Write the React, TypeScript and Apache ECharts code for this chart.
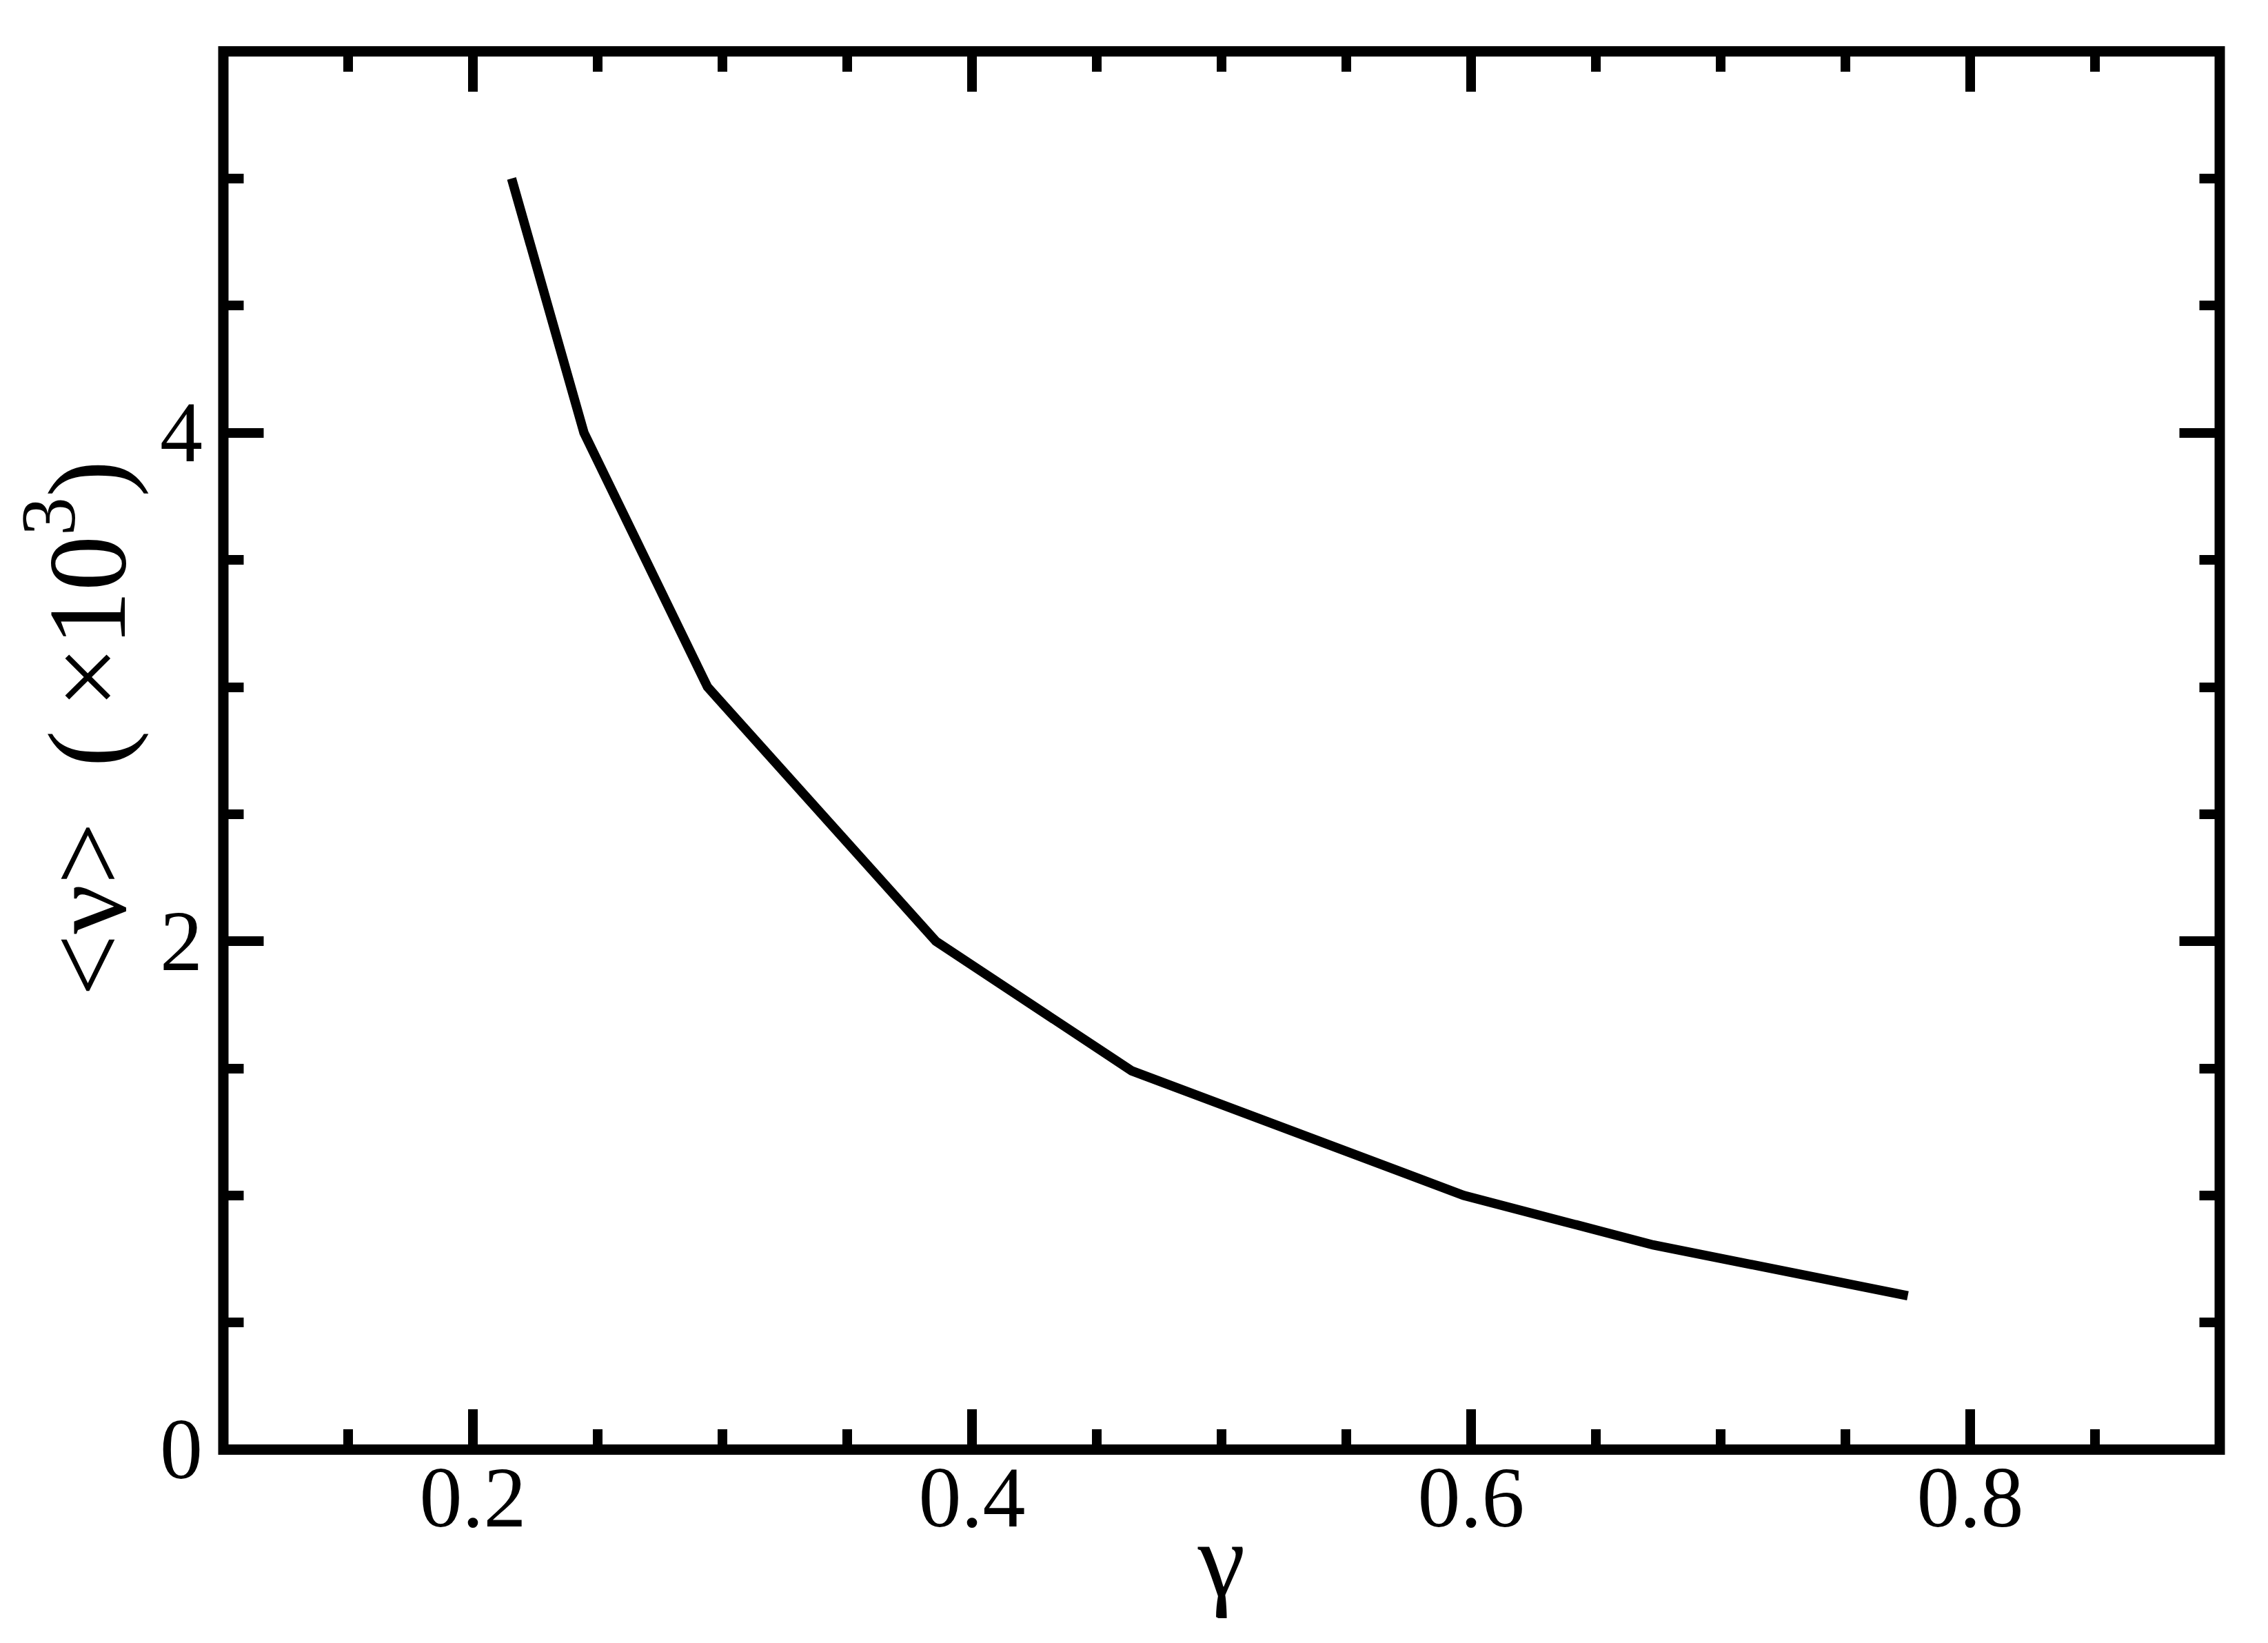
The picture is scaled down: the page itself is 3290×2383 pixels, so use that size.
import React, { useEffect, useRef } from "react";
import * as echarts from "echarts";

// Data
const gammaValues = [0.2155, 0.2445, 0.294, 0.3855, 0.464, 0.597, 0.673, 0.775];
const nuValues = [5.0, 4.0, 3.0, 2.0, 1.49, 1.0, 0.805, 0.605];

// Tick / label values
const xMajorTicks = [0.2, 0.4, 0.6, 0.8];
const yMajorTicks = [0, 2, 4];

const FONT = "'Liberation Serif', 'Times New Roman', serif";
const BLACK = "#000";

export default function App() {
  const ref = useRef<HTMLDivElement>(null);

  useEffect(() => {
    if (!ref.current) return;
    const chart = echarts.init(ref.current, undefined, { renderer: "svg" });

    const tickStyle = { width: 14, color: BLACK };
    const shortTick = { show: true, inside: true, length: 29.5, lineStyle: tickStyle };
    const longTick = (vals: number[]) => ({
      show: true,
      inside: true,
      length: 58.5,
      customValues: vals,
      lineStyle: tickStyle,
    });

    const xBase = {
      type: "value" as const,
      gridIndex: 0,
      min: 0.1,
      max: 0.9,
      axisLine: { show: false, onZero: false },
      splitLine: { show: false },
    };
    const yBase = {
      type: "value" as const,
      gridIndex: 0,
      min: 0,
      max: 5.5,
      axisLine: { show: false, onZero: false },
      splitLine: { show: false },
    };

    const data = gammaValues.map((g, i) => [g, nuValues[i]]);

    chart.setOption({
      animation: false,
      backgroundColor: "#fff",
      grid: {
        left: 324,
        top: 74.5,
        width: 2896,
        height: 2028,
        show: true,
        borderWidth: 15,
        borderColor: BLACK,
        backgroundColor: "transparent",
        containLabel: false,
        outerBoundsMode: "none",
      },
      xAxis: [
        {
          ...xBase,
          position: "bottom",
          interval: 0.05,
          axisTick: shortTick,
          axisLabel: {
            customValues: xMajorTicks,
            fontSize: 124,
            fontFamily: FONT,
            color: BLACK,
            margin: 7.5,
          },
          name: "γ",
          nameLocation: "middle",
          nameGap: 81.5,
          nameMoveOverlap: false,
          nameTextStyle: { fontSize: 155, fontFamily: FONT, color: BLACK },
        },
        {
          ...xBase,
          position: "bottom",
          axisTick: longTick(xMajorTicks),
          axisLabel: { show: false },
        },
        {
          ...xBase,
          position: "top",
          interval: 0.05,
          axisTick: shortTick,
          axisLabel: { show: false },
        },
        {
          ...xBase,
          position: "top",
          axisTick: longTick(xMajorTicks),
          axisLabel: { show: false },
        },
      ],
      yAxis: [
        {
          ...yBase,
          position: "left",
          interval: 0.5,
          axisTick: shortTick,
          axisLabel: { show: false },
          name: "{n|<ν>  (\u2009×10}{s|3}{n|)}",
          nameLocation: "middle",
          nameGap: 84,
          nameRotate: 90,
          nameMoveOverlap: false,
          nameTextStyle: {
            fontFamily: FONT,
            color: BLACK,
            fontSize: 160,
            padding: [0, 0, 0, 64],
            rich: {
              n: { fontSize: 160, lineHeight: 226, fontFamily: FONT, color: BLACK },
              s: { fontSize: 112, lineHeight: 112, fontFamily: FONT, color: BLACK, verticalAlign: "top" },
            },
          },
        },
        {
          ...yBase,
          position: "left",
          axisTick: longTick(yMajorTicks),
          axisLabel: {
            customValues: yMajorTicks,
            fontSize: 124,
            fontFamily: FONT,
            color: BLACK,
            margin: 30,
          },
        },
        {
          ...yBase,
          position: "right",
          interval: 0.5,
          axisTick: shortTick,
          axisLabel: { show: false },
        },
        {
          ...yBase,
          position: "right",
          axisTick: longTick(yMajorTicks),
          axisLabel: { show: false },
        },
      ],
      series: [
        {
          type: "line",
          xAxisIndex: 0,
          yAxisIndex: 0,
          data,
          showSymbol: false,
          symbol: "none",
          lineStyle: { color: BLACK, width: 13.5, cap: "butt", join: "miter" },
          z: 5,
        },
      ],
    });

    return () => chart.dispose();
  }, []);

  return (
    <div
      ref={ref}
      style={{ position: "absolute", left: 0, top: 0, width: 3290, height: 2383, background: "#fff" }}
    />
  );
}
